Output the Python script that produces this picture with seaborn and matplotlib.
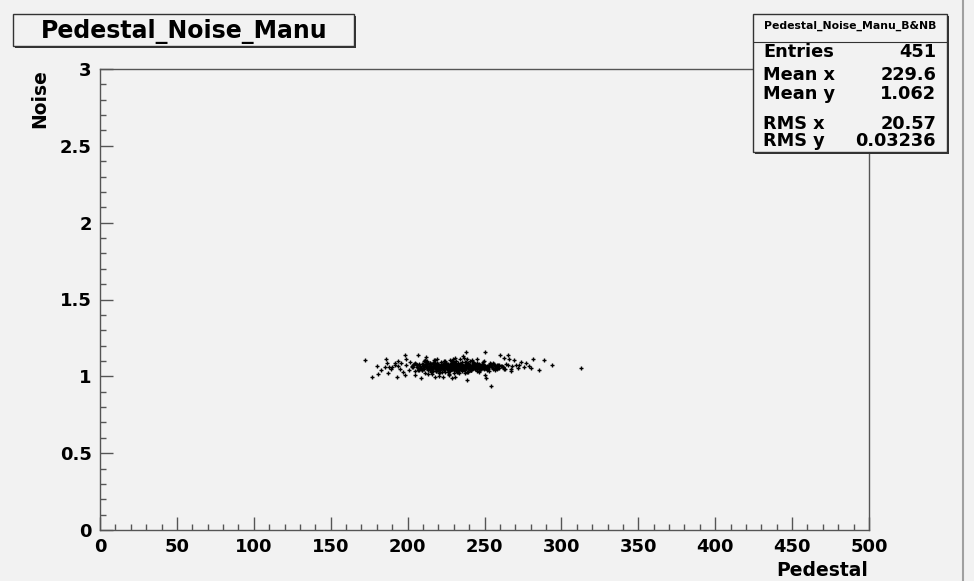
import matplotlib
matplotlib.use("Agg")
import matplotlib.pyplot as plt
from matplotlib.patches import Rectangle
from matplotlib.lines import Line2D
from matplotlib.ticker import MultipleLocator
import seaborn as sns
import pandas as pd

# ---------------- data ----------------
pedestal_core = [
    203.1, 207.4, 211.8, 214.2, 216.5, 218.9, 221.3, 223.0, 225.6, 227.2,
    229.8, 231.4, 233.7, 235.1, 237.9, 239.3, 241.6, 243.2, 246.8, 249.5,
    252.1, 255.4, 258.7, 205.3, 209.9, 212.6, 215.8, 219.4, 222.1, 224.7,
    226.3, 228.5, 230.9, 232.2, 234.8, 236.4, 238.6, 240.7, 242.9, 245.3,
    247.6, 250.8, 253.9, 201.7, 206.2, 210.4, 213.5, 217.1, 220.6, 223.8,
    225.1, 227.9, 229.2, 231.8, 233.3, 235.9, 237.2, 239.8, 241.1, 244.5,
    248.2, 251.6, 256.3, 208.1, 211.2, 214.9, 216.8, 218.3, 221.9, 224.2,
    226.8, 228.1, 230.4, 232.9, 234.1, 236.7, 238.2, 240.3, 243.8, 246.1,
    249.9, 254.2, 259.5, 204.6, 207.8, 212.3, 215.2, 217.7, 220.1, 222.6,
    224.9, 227.5, 229.5, 231.1, 233.9, 235.5, 237.6, 239.1, 242.4, 245.9,
    248.7, 252.9, 257.1, 202.9, 209.3, 213.1, 216.2, 219.8, 221.5, 223.4,
    226.0, 228.8, 230.2, 232.5, 234.4, 236.1, 238.9, 240.9, 243.5, 247.2,
    250.3, 253.4, 260.8, 206.9, 210.7, 214.5, 217.9, 220.4, 222.8, 225.3,
    227.1, 229.0, 231.6, 233.1, 235.3, 237.4, 239.6, 241.8, 244.2, 246.6,
    249.1, 251.2, 255.8, 205.8, 208.6, 211.5, 215.5, 218.6, 221.1, 223.6,
    225.8, 227.7, 230.1, 232.7, 234.6, 236.8, 238.4, 241.3, 243.1, 245.1,
    248.0, 250.5, 254.7, 203.8, 207.1, 210.9, 214.1, 216.9, 219.2, 222.3,
    224.4, 226.6, 229.3, 231.3, 233.6, 235.7, 237.8, 240.1, 242.6, 244.8,
    247.4, 252.4, 258.2, 204.2, 209.6, 213.8, 217.4, 220.8, 223.2, 225.9,
    228.3, 230.6, 232.4, 234.9, 236.2, 238.1, 240.5, 243.4, 246.3, 249.2,
    211.0, 215.0, 219.0, 222.4, 226.1, 229.7, 233.4, 236.9, 239.4, 242.1,
    212.9, 216.4, 218.1, 220.9, 224.1, 227.3, 230.7, 233.0, 235.6, 238.7,
    213.3, 217.3, 220.2, 223.9, 226.9, 228.9, 231.9, 234.2, 237.1, 240.6,
    214.6, 218.2, 221.7, 224.5, 227.8, 230.3, 232.6, 235.2, 238.3, 241.5,
    244.0, 246.4, 249.6, 251.9, 253.1, 256.9, 207.6, 210.2, 212.1, 216.1,
    219.6, 222.9, 225.4, 228.2, 231.2, 234.0, 236.3, 239.7, 242.7, 245.6,
    210.1, 213.9, 217.6, 221.2, 224.6, 227.6, 230.8, 233.8, 237.0, 240.0,
    243.3, 247.0, 250.1, 253.6, 206.4, 209.1, 212.4, 215.4, 218.8, 221.6,
    224.0, 226.4, 229.6, 232.0, 234.7, 237.3, 239.9, 242.2, 244.7, 247.8,
    211.6, 214.4, 217.0, 220.0, 223.3, 225.7, 228.6, 231.5, 235.0, 238.5,
    208.4, 213.0, 216.7, 219.9, 222.2, 225.2, 228.0, 230.5, 233.2, 236.6,
    239.2, 241.9, 244.3, 246.9, 248.4, 251.0, 254.5, 257.6, 261.4, 263.2,
    203.5, 206.7, 211.4, 214.8, 218.5, 221.8, 224.3, 227.4, 229.9, 232.8,
    235.4, 237.7, 240.4, 243.0, 245.7, 248.9, 252.6, 255.1, 259.0, 262.3,
    209.5, 212.8, 216.3, 219.5, 222.7, 226.2, 229.1, 232.1, 234.3, 238.0,
    240.8, 243.6, 246.2, 249.4, 201.2, 204.9, 215.7, 220.3, 226.7, 231.0,
    217.2, 221.4, 225.5, 228.4, 232.3, 236.0, 239.5, 242.0, 218.4, 230.0,
    234.5, 226.5, 214.0, 219.1, 223.7, 227.0, 231.7, 235.8, 240.2, 245.0,
    249.0, 253.0,
]
noise_core = [
    1.062, 1.048, 1.075, 1.056, 1.083, 1.041, 1.067, 1.059, 1.072, 1.051,
    1.064, 1.078, 1.045, 1.069, 1.057, 1.086, 1.053, 1.061, 1.074, 1.047,
    1.066, 1.055, 1.071, 1.079, 1.052, 1.063, 1.044, 1.088, 1.058, 1.070,
    1.049, 1.065, 1.077, 1.054, 1.060, 1.043, 1.073, 1.068, 1.057, 1.081,
    1.046, 1.062, 1.071, 1.092, 1.058, 1.067, 1.039, 1.076, 1.053, 1.064,
    1.085, 1.050, 1.061, 1.072, 1.047, 1.066, 1.055, 1.079, 1.063, 1.058,
    1.069, 1.044, 1.082, 1.052, 1.074, 1.060, 1.087, 1.049, 1.065, 1.071,
    1.057, 1.076, 1.042, 1.063, 1.080, 1.054, 1.068, 1.059, 1.073, 1.048,
    1.061, 1.078, 1.056, 1.035, 1.067, 1.090, 1.052, 1.070, 1.045, 1.063,
    1.074, 1.058, 1.083, 1.049, 1.066, 1.061, 1.040, 1.077, 1.054, 1.069,
    1.051, 1.072, 1.064, 1.068, 1.081, 1.046, 1.059, 1.066, 1.075, 1.038,
    1.063, 1.047, 1.088, 1.060, 1.071, 1.053, 1.067, 1.044, 1.078, 1.062,
    1.056, 1.084, 1.070, 1.043, 1.098, 1.061, 1.074, 1.050, 1.066, 1.079,
    1.045, 1.068, 1.055, 1.076, 1.062, 1.091, 1.048, 1.065, 1.057, 1.073,
    1.080, 1.059, 1.046, 1.071, 1.054, 1.104, 1.063, 1.037, 1.069, 1.052,
    1.077, 1.061, 1.095, 1.049, 1.066, 1.058, 1.072, 1.041, 1.064, 1.086,
    1.053, 1.070, 1.062, 1.058, 1.082, 1.047, 1.069, 1.096, 1.055, 1.060,
    1.073, 1.050, 1.067, 1.100, 1.043, 1.064, 1.079, 1.056, 1.070, 1.036,
    1.065, 1.057, 1.074, 1.083, 1.042, 1.066, 1.108, 1.051, 1.062, 1.077,
    1.048, 1.069, 1.033, 1.072, 1.060, 1.093, 1.055, 1.068, 1.046, 1.064,
    1.020, 1.025, 1.112, 1.028, 1.030, 1.115, 1.022, 1.118, 1.027, 1.105,
    1.097, 1.032, 1.107, 1.026, 1.101, 1.034, 1.121, 1.029, 1.094, 1.031,
    1.014, 1.089, 1.024, 1.099, 1.018, 1.103, 1.027, 1.110, 1.021, 1.097,
    1.085, 1.036, 1.092, 1.030, 1.106, 1.023, 1.087, 1.033, 1.114, 1.039,
    1.050, 1.028, 1.099, 1.068, 1.035, 1.057, 1.044, 1.081, 1.094, 1.060,
    1.071, 1.047, 1.062, 1.084, 1.040, 1.076, 1.053, 1.065, 1.091, 1.058,
    1.068, 1.055, 1.082, 1.044, 1.073, 1.061, 1.050, 1.078, 1.066, 1.053,
    1.088, 1.051, 1.064, 1.075, 1.072, 1.043, 1.057, 1.080, 1.046, 1.071,
    1.059, 1.083, 1.048, 1.066, 1.077, 1.052, 1.063, 1.087, 1.054, 1.069,
    1.074, 1.042, 1.066, 1.058, 1.081, 1.049, 1.070, 1.062, 1.045, 1.076,
    1.057, 1.086, 1.061, 1.039, 1.072, 1.064, 1.048, 1.083, 1.059, 1.067,
    1.052, 1.075, 1.063, 1.044, 1.079, 1.056, 1.070, 1.061, 1.066, 1.050,
    1.073, 1.054, 1.068, 1.090, 1.047, 1.061, 1.078, 1.052, 1.065, 1.056,
    1.082, 1.060, 1.043, 1.071, 1.058, 1.066, 1.049, 1.074, 1.055, 1.063,
    1.046, 1.069, 1.057, 1.080, 1.063, 1.052, 1.075, 1.041, 1.070, 1.059,
    1.066, 1.053, 1.078, 1.062, 1.040, 1.085, 1.012, 1.004, 1.008, 0.996,
    1.058, 1.071, 1.046, 1.083, 1.062, 1.050, 1.076, 1.064, 1.069, 1.055,
    1.073, 1.061, 1.066, 1.052, 1.079, 1.057, 1.070, 1.063, 1.048, 1.074,
    1.059, 1.067,
]
pedestal_left = [172.0, 180.0, 177.0, 180.5, 186.0, 186.4, 185.0, 187.0, 188.0, 190.0,
                 191.5, 194.0, 193.5, 193.0, 198.0, 198.7, 198.0, 199.0, 183.0, 189.0,
                 195.0, 196.0, 197.0, 192.0]
noise_left = [1.106, 1.067, 0.995, 1.015, 1.110, 1.087, 1.060, 1.020, 1.060, 1.060,
              1.074, 1.100, 1.067, 0.995, 1.140, 1.113, 1.010, 1.074, 1.040, 1.045,
              1.050, 1.085, 1.030, 1.090]
pedestal_stray = [237.7, 235.7, 250.0, 244.8, 248.7, 238.3, 250.0, 251.3, 229.0, 206.5,
                  212.0, 204.5, 209.0, 217.5, 222.7]
noise_stray = [1.160, 1.130, 1.160, 1.110, 1.095, 0.976, 1.008, 0.990, 0.990, 1.139,
               1.126, 1.008, 0.990, 0.995, 0.995]
pedestal_right = [260.4, 265.6, 255.8, 259.7, 261.8, 265.0, 266.0, 269.5, 268.0, 267.5,
                  270.8, 272.7, 276.0, 277.0, 254.5, 258.0, 257.0, 263.0, 281.8, 289.0,
                  294.0, 280.5, 285.7, 313.0, 264.0, 271.5, 274.0, 262.7, 279.0, 267.0]
noise_right = [1.141, 1.139, 1.089, 1.074, 1.060, 1.074, 1.110, 1.106, 1.067, 1.035,
               1.074, 1.074, 1.060, 1.087, 0.937, 1.045, 1.040, 1.047, 1.113, 1.106,
               1.073, 1.054, 1.041, 1.054, 1.082, 1.052, 1.095, 1.118, 1.070, 1.050]

title_text = "Pedestal_Noise_Manu"
stats_name = "Pedestal_Noise_Manu_B&NB"
stats_labels = ["Entries", "Mean x", "Mean y", "RMS x", "RMS y"]
stats_values = ["451", "229.6", "1.062", "20.57", "0.03236"]
x_ticks = [0, 50, 100, 150, 200, 250, 300, 350, 400, 450, 500]
y_ticks = [0, 0.5, 1, 1.5, 2, 2.5, 3]
x_tick_labels = ["0", "50", "100", "150", "200", "250", "300", "350", "400", "450", "500"]
y_tick_labels = ["0", "0.5", "1", "1.5", "2", "2.5", "3"]
x_label = "Pedestal"
y_label = "Noise"

df = pd.DataFrame({
    "Pedestal": pedestal_core + pedestal_left + pedestal_stray + pedestal_right,
    "Noise": noise_core + noise_left + noise_stray + noise_right,
})

# ---------------- figure ----------------
sns.set_style("white")
plt.rcParams["font.family"] = ["DejaVu Sans"]
plt.rcParams["font.weight"] = "bold"
plt.rcParams["text.color"] = "black"

W, H = 974, 581
bg = "#f2f2f2"
fig = plt.figure(figsize=(W / 100, H / 100), dpi=100, facecolor=bg)

def fx(px):
    return px / W

def fy(py):
    return 1 - py / H

ax = fig.add_axes([fx(100), fy(530), fx(869) - fx(100), fy(69) - fy(530)])
ax.set_facecolor(bg)

sns.scatterplot(data=df, x="Pedestal", y="Noise", ax=ax, color="black",
                marker="+", s=8, linewidth=1.0, legend=False, zorder=3)

ax.set_xlim(0, 500)
ax.set_ylim(0, 3)
ax.xaxis.set_minor_locator(MultipleLocator(10))
ax.yaxis.set_minor_locator(MultipleLocator(0.1))
ax.set_xticks(x_ticks)
ax.set_xticklabels(x_tick_labels)
ax.set_yticks(y_ticks)
ax.set_yticklabels(y_tick_labels)

frame_c = "#555555"
for sp in ax.spines.values():
    sp.set_color(frame_c)
    sp.set_linewidth(1.0)
    sp.set_visible(True)

ax.tick_params(axis="both", which="major", direction="in", length=9.5, width=1.0,
               color=frame_c, labelsize=13, labelcolor="black")
ax.tick_params(axis="both", which="minor", direction="in", length=4.5, width=1.0,
               color=frame_c)
ax.tick_params(axis="x", which="both", top=False, bottom=True, pad=6)
ax.tick_params(axis="y", which="both", right=False, left=True, pad=6)
for lab in ax.get_xticklabels() + ax.get_yticklabels():
    lab.set_fontweight("bold")

ax.set_xlabel("")
ax.set_ylabel("")
fig.text(fx(868), fy(570), x_label, ha="right", va="center", fontsize=13.5, fontweight="bold")
fig.text(fx(40), fy(69), y_label, ha="center", va="top", rotation=90, fontsize=13.5,
         fontweight="bold")

# boxes with shadow
def box(x0, y0, x1, y1, z=10):
    sh = 2
    fig.patches.append(Rectangle((fx(x0 + sh), fy(y1 + sh)), fx(x1) - fx(x0), fy(y0) - fy(y1),
                                 transform=fig.transFigure, facecolor="#333333",
                                 edgecolor="none", zorder=z))
    fig.patches.append(Rectangle((fx(x0), fy(y1)), fx(x1) - fx(x0), fy(y0) - fy(y1),
                                 transform=fig.transFigure, facecolor=bg,
                                 edgecolor="#333333", linewidth=1.0, zorder=z + 0.1))

box(13, 14, 354, 46)
fig.text(fx(184), fy(31), title_text, ha="center", va="center", fontsize=17,
         fontweight="bold", zorder=12)

# stats box
box(753, 14, 947, 152)
fig.lines.append(Line2D([fx(753), fx(947)], [fy(42), fy(42)], transform=fig.transFigure,
                        color="#333333", linewidth=0.8, zorder=12))
fig.text(fx(850), fy(26), stats_name, ha="center", va="center", fontsize=7.8,
         fontweight="bold", zorder=12)
row_y = [52, 75, 94, 124, 141]
for lab, val, yy in zip(stats_labels, stats_values, row_y):
    fig.text(fx(763), fy(yy), lab, ha="left", va="center", fontsize=12.8,
             fontweight="bold", zorder=12)
    fig.text(fx(936), fy(yy), val, ha="right", va="center", fontsize=12.8,
             fontweight="bold", zorder=12)

# right edge grey line
fig.lines.append(Line2D([fx(963), fx(963)], [0, 1], transform=fig.transFigure,
                        color="#a0a0a0", linewidth=1.5, zorder=1))

fig.savefig("out.png", dpi=100, facecolor=bg)
